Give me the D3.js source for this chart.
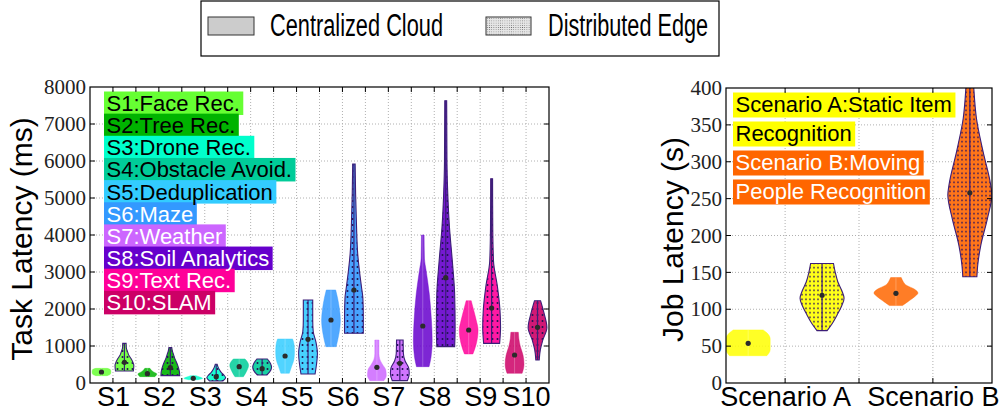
<!DOCTYPE html>
<html><head><meta charset="utf-8">
<script src="https://cdn.jsdelivr.net/npm/d3@7"></script>
<style>body{margin:0;background:#fff}svg{display:block}</style>
</head><body><svg id="c" width="1000" height="413"></svg>
<script>
// ---------- DATA ----------
const services = ["S1","S2","S3","S4","S5","S6","S7","S8","S9","S10"];
const serviceLabels = ["S1:Face Rec.","S2:Tree Rec.","S3:Drone Rec.","S4:Obstacle Avoid.","S5:Deduplication","S6:Maze","S7:Weather","S8:Soil Analytics","S9:Text Rec.","S10:SLAM"];
const serviceColors = ["#66ff33","#00b300","#00ffcc","#00cc99","#33ccff","#3399ff","#cc66ff","#6600cc","#ff0099","#cc0066"];
const serviceTextColors = ["#000","#000","#000","#000","#000","#fff","#fff","#fff","#fff","#fff"];
// cloud violins: mean and profile [value, relative width]
const cloudMeans = [297,252,126,440,730,1703,423,1540,1432,757];
const cloudProfiles = [
  [[198,0.6],[240,0.95],[300,1],[360,0.95],[396,0.6]],
  [[172,0.8],[245,1],[300,0.65],[350,0.4],[396,0.27]],
  [[90,0.5],[126,1],[160,0.7],[197,0.3]],
  [[170,0.45],[300,0.75],[480,1],[580,0.85],[650,0.62]],
  [[262,0.45],[450,0.7],[650,0.95],[850,1],[1050,0.95],[1190,0.8]],
  [[982,0.55],[1200,0.75],[1500,0.95],[1700,1],[2000,0.9],[2300,0.7],[2514,0.5]],
  [[63,0.75],[200,1],[350,0.95],[500,0.6],[650,0.3],[800,0.22],[1162,0.22]],
  [[441,0.67],[700,0.88],[1150,1],[1700,0.92],[2400,0.7],[3050,0.35],[3350,0.18],[4000,0.14]],
  [[784,0.45],[1050,0.8],[1430,1],[1700,0.8],[2000,0.5],[2225,0.27]],
  [[261,0.8],[500,1],[750,0.9],[1000,0.6],[1200,0.45],[1370,0.4]]
];
const edgeMeans = [559,414,171,387,1180,2514,531,2847,2027,1505];
const edgeProfiles = [
  [[324,0.95],[480,1],[560,0.9],[660,0.7],[760,0.45],[850,0.33],[950,0.2],[1072,0.18]],
  [[198,1],[300,0.97],[400,0.88],[500,0.75],[580,0.62],[680,0.45],[760,0.35],[860,0.22],[955,0.15]],
  [[54,0.7],[140,1],[220,0.8],[280,0.55],[350,0.36],[430,0.2],[505,0.1]],
  [[216,0.5],[300,0.8],[420,1],[520,0.9],[600,0.7],[650,0.55]],
  [[243,0.75],[500,0.9],[800,1],[1100,0.85],[1400,0.55],[1700,0.5],[2000,0.5],[2243,0.5]],
  [[1343,1],[1800,1],[2300,0.95],[2600,0.8],[3000,0.6],[3500,0.4],[4200,0.28],[5100,0.18],[5919,0.13]],
  [[63,0.8],[250,1],[400,0.95],[600,0.55],[800,0.38],[1162,0.35]],
  [[982,0.95],[1500,1],[2400,0.95],[3300,0.7],[4200,0.4],[5100,0.22],[6000,0.13],[7630,0.1]],
  [[1072,0.85],[1500,0.95],[2000,0.88],[2600,0.62],[3300,0.2],[4200,0.12],[5522,0.1]],
  [[622,0.18],[900,0.3],[1150,0.55],[1500,1],[1900,0.68],[2225,0.32]]
];
const latencyTicks = [0,1000,2000,3000,4000,5000,6000,7000,8000];

const scenarios = ["Scenario A","Scenario B"];
const scenarioLabels = [["Scenario A:Static Item","Recognition"],["Scenario B:Moving","People Recognition"]];
const scenarioColors = ["#ffff00","#ff6600"];
const scenarioTextColors = ["#000","#fff"];
const scenCloudMeans = [53.8,121.6];
const scenCloudProfiles = [
  [[37,0.85],[45,1],[60,1],[68,0.85],[72,0.68]],
  [[105,0.3],[110,0.53],[117,0.85],[122,1],[127,0.85],[133,0.45],[138,0.32],[143,0.24]]
];
const scenEdgeMeans = [119,258];
const scenEdgeProfiles = [
  [[71,0.23],[80,0.45],[92,0.68],[105,0.9],[115,1],[125,0.9],[137,0.72],[150,0.6],[162,0.52]],
  [[144,0.32],[160,0.36],[187,0.5],[223,0.8],[255,1],[268,0.95],[314,0.6],[359,0.3],[400,0.18],[410,0.16]]
];
const jobTicks = [0,50,100,150,200,250,300,350,400];
const legendLabels = ["Centralized Cloud","Distributed Edge"];

// ---------- DRAW ----------
const svg = d3.select("#c");
const defs = svg.append("defs");
function dotPattern(id, w, h, r, color, bg){
  const p = defs.append("pattern").attr("id",id).attr("patternUnits","userSpaceOnUse")
    .attr("width",w).attr("height",h);
  if(bg) p.append("rect").attr("width",w).attr("height",h).attr("fill",bg);
  p.append("circle").attr("cx",w/2).attr("cy",h/2).attr("r",r).attr("fill",color);
}
dotPattern("dotsL",5,6,1.0,"#1e0f50");
dotPattern("dotsR",4,4.5,0.85,"#2a1060");
dotPattern("dotsLeg",2.2,2.2,0.45,"#555","#e6e6e6");

const sans = "'Liberation Sans', Arial, Helvetica, sans-serif";
const serif = "'Liberation Serif', 'Times New Roman', serif";
const outline = "#3c1e78";

function panel(cfg){
  const g = svg.append("g");
  const x = d3.scaleLinear().domain(cfg.xdom).range([cfg.x0, cfg.x1]);
  const y = d3.scaleLinear().domain(cfg.ydom).range([cfg.y1, cfg.y0]);
  const clipId = cfg.id + "clip";
  defs.append("clipPath").attr("id",clipId).append("rect")
    .attr("x",cfg.x0).attr("y",cfg.y0).attr("width",cfg.x1-cfg.x0).attr("height",cfg.y1-cfg.y0);
  // grid
  const grid = g.append("g").attr("stroke","#b0b0b0").attr("stroke-dasharray","1,2").attr("stroke-width",1);
  cfg.yticks.slice(1,-1).forEach(t=>grid.append("line").attr("x1",cfg.x0).attr("x2",cfg.x1).attr("y1",y(t)).attr("y2",y(t)));
  cfg.gridX.forEach(t=>grid.append("line").attr("y1",cfg.y0).attr("y2",cfg.y1).attr("x1",x(t)).attr("x2",x(t)));
  // label boxes
  const lab = g.append("g");
  cfg.labels.forEach((L,i)=>{
    const by = cfg.labBase + i*cfg.labStep;
    const t = lab.append("text").attr("x",cfg.labX+2.5).attr("y",by).attr("font-family",sans)
      .attr("font-size",cfg.labFs).attr("fill",L.tc).text(L.text);
    const w = t.node().getComputedTextLength();
    lab.insert("rect","text").attr("x",cfg.labX).attr("y",by-19.5).attr("width",w+6).attr("height",cfg.labH).attr("fill",L.bg);
  });
  // violins
  const vg = g.append("g").attr("clip-path",`url(#${clipId})`);
  cfg.violins.forEach(v=>{
    const cx = x(v.pos), hw = cfg.hw;
    const area = d3.area().y(d=>y(d[0])).x0(d=>cx-d[1]*hw).x1(d=>cx+d[1]*hw).curve(d3.curveMonotoneY);
    const vmin = v.prof[0][0], vmax = v.prof[v.prof.length-1][0];
    if(v.kind==="cloud"){
      vg.append("path").attr("d",area(v.prof)).attr("fill",v.color).attr("fill-opacity",0.85)
        .attr("stroke",v.color).attr("stroke-opacity",0.5).attr("stroke-width",0.8);
      vg.append("line").attr("x1",cx).attr("x2",cx).attr("y1",y(vmin)).attr("y2",y(vmax))
        .attr("stroke","#fff").attr("stroke-opacity",0.25).attr("stroke-width",1);
    } else {
      vg.append("path").attr("d",area(v.prof)).attr("fill",v.color).attr("fill-opacity",0.9);
      vg.append("path").attr("d",area(v.prof)).attr("fill",`url(#${cfg.pat})`)
        .attr("stroke",outline).attr("stroke-width",1.1);
      vg.append("line").attr("x1",cx).attr("x2",cx).attr("y1",y(vmin)).attr("y2",y(vmax))
        .attr("stroke",outline).attr("stroke-width",1.2);
    }
    vg.append("circle").attr("cx",cx).attr("cy",y(v.mean)).attr("r",2.6).attr("fill","#2b2b2b");
  });
  // frame
  g.append("rect").attr("x",cfg.x0).attr("y",cfg.y0).attr("width",cfg.x1-cfg.x0).attr("height",cfg.y1-cfg.y0)
    .attr("fill","none").attr("stroke","#000").attr("stroke-width",1.2);
  // ticks
  const tk = g.append("g").attr("stroke","#000").attr("stroke-width",1);
  cfg.yticks.slice(1,-1).forEach(t=>{
    tk.append("line").attr("x1",cfg.x0).attr("x2",cfg.x0+5).attr("y1",y(t)).attr("y2",y(t));
    tk.append("line").attr("x1",cfg.x1).attr("x2",cfg.x1-5).attr("y1",y(t)).attr("y2",y(t));
  });
  cfg.gridX.forEach(t=>{
    tk.append("line").attr("y1",cfg.y0).attr("y2",cfg.y0+5).attr("x1",x(t)).attr("x2",x(t));
    tk.append("line").attr("y1",cfg.y1).attr("y2",cfg.y1-5).attr("x1",x(t)).attr("x2",x(t));
  });
  // y axis labels
  const ya = d3.axisLeft(y).tickValues(cfg.yticks).tickFormat(d3.format("d")).tickSizeInner(0).tickSizeOuter(0).tickPadding(4);
  const yg = g.append("g").attr("transform",`translate(${cfg.x0},0)`).call(ya);
  yg.select(".domain").remove();
  yg.selectAll("text").attr("font-family",serif).attr("font-size",21).attr("fill","#222");
  // x axis labels
  const xa = d3.axisBottom(x).tickValues(cfg.xlabPos).tickFormat((d,i)=>cfg.xlab[i]).tickSizeInner(0).tickSizeOuter(0).tickPadding(4);
  const xg = g.append("g").attr("transform",`translate(0,${cfg.y1})`).call(xa);
  xg.select(".domain").remove();
  xg.selectAll("text").attr("font-family",sans).attr("font-size",cfg.xfs).attr("fill","#000");
  // title
  g.append("text").attr("transform",`translate(${cfg.titleX},${(cfg.y0+cfg.y1)/2+4}) rotate(-90)`)
    .attr("text-anchor","middle").attr("font-family",sans).attr("font-size",30).attr("fill","#000").text(cfg.title);
}

// left panel
const leftViolins = [];
services.forEach((s,i)=>{
  leftViolins.push({pos:2*i+1, kind:"cloud", prof:cloudProfiles[i], mean:cloudMeans[i], color:serviceColors[i]});
  leftViolins.push({pos:2*i+2, kind:"edge", prof:edgeProfiles[i], mean:edgeMeans[i], color:serviceColors[i]});
});
panel({
  id:"L", x0:90, x1:549, y0:87, y1:383, xdom:[0.5,20.5], ydom:[0,8000], yticks:latencyTicks,
  gridX:d3.range(1,20).map(k=>k+0.5), xlabPos:services.map((s,i)=>2*i+1.5), xlab:services, xfs:27,
  hw:9.4, pat:"dotsL", violins:leftViolins,
  labels:serviceLabels.map((t,i)=>({text:t,bg:serviceColors[i],tc:serviceTextColors[i]})),
  labX:104, labBase:111, labStep:22.15, labH:23.5, labFs:22,
  title:"Task Latency (ms)", titleX:32
});

// right panel
const rightViolins = [];
scenarios.forEach((s,i)=>{
  rightViolins.push({pos:2*i+1, kind:"cloud", prof:scenCloudProfiles[i], mean:scenCloudMeans[i], color:scenarioColors[i]});
  rightViolins.push({pos:2*i+2, kind:"edge", prof:scenEdgeProfiles[i], mean:scenEdgeMeans[i], color:scenarioColors[i]});
});
const rLabels = [];
scenarioLabels.forEach((pair,i)=>pair.forEach(t=>rLabels.push({text:t,bg:scenarioColors[i],tc:scenarioTextColors[i]})));
panel({
  id:"R", x0:726, x1:992, y0:88, y1:383, xdom:[0.7,4.3], ydom:[0,400], yticks:jobTicks,
  gridX:[1.5,2.5,3.5], xlabPos:[1.5,3.5], xlab:scenarios, xfs:27,
  hw:22, pat:"dotsR", violins:rightViolins,
  labels:rLabels, labX:733, labBase:112, labStep:29, labH:25, labFs:22,
  title:"Job Latency (s)", titleX:683
});

// legend
const lg = svg.append("g");
lg.append("rect").attr("x",201).attr("y",1).attr("width",518).attr("height",55).attr("fill","#fff").attr("stroke","#000").attr("stroke-width",1.2);
lg.append("rect").attr("x",208).attr("y",17).attr("width",46).attr("height",18).attr("fill","#cccccc").attr("stroke","#333").attr("stroke-width",1);
lg.append("rect").attr("x",486).attr("y",17).attr("width",45).attr("height",18).attr("fill","url(#dotsLeg)").attr("stroke","#333").attr("stroke-width",1);
const legX = [270,548], legLen=[173,160];
legendLabels.forEach((t,i)=>{
  lg.append("text").attr("x",legX[i]).attr("y",36).attr("font-family",sans).attr("font-size",31)
    .attr("textLength",legLen[i]).attr("lengthAdjust","spacingAndGlyphs").attr("fill","#000").text(t);
});
</script></body></html>
